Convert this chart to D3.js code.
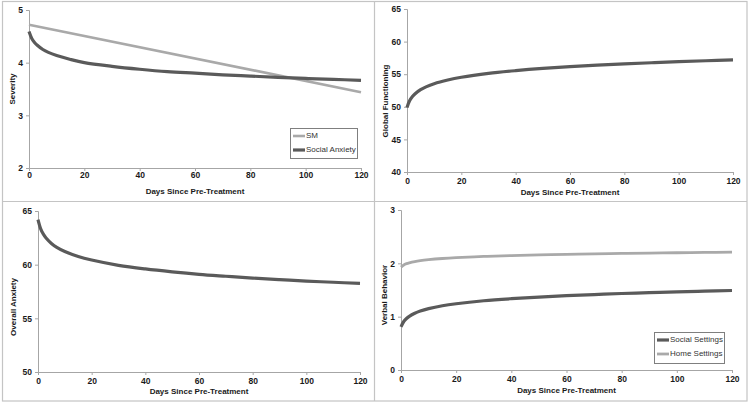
<!DOCTYPE html>
<html><head><meta charset="utf-8">
<script src="https://cdn.jsdelivr.net/npm/d3@7"></script>
<style>body{margin:0;background:#fff}svg{display:block;font-family:"Liberation Sans",Arial,sans-serif}</style>
</head><body><svg id="c" width="750" height="403"></svg>
<script>
const days = [0,1,2,3,5,7,10,15,20,30,40,50,60,70,80,90,100,110,120];
const xTicks = [0,20,40,60,80,100,120];
const xTitle = "Days Since Pre-Treatment";

const smDays = [0,120];
const smValues = [4.72,3.44];
const socialAnxiety = [4.59,4.46,4.385,4.33,4.25,4.195,4.135,4.06,4.0,3.93,3.875,3.83,3.8,3.77,3.745,3.72,3.7,3.683,3.665];
const globalFunctioning = [49.9,50.95,51.57,52.01,52.62,53.06,53.55,54.11,54.53,55.12,55.54,55.88,56.15,56.38,56.58,56.76,56.92,57.06,57.19];
const overallAnxiety = [64.2,63.34,62.84,62.48,61.98,61.62,61.23,60.76,60.43,59.94,59.6,59.33,59.1,58.92,58.75,58.61,58.47,58.36,58.25];
const socialSettings = [0.81,0.91,0.966,1.007,1.064,1.105,1.15,1.204,1.242,1.298,1.337,1.368,1.394,1.415,1.434,1.45,1.465,1.479,1.491];
const homeSettings = [1.93,1.97,1.994,2.01,2.034,2.051,2.069,2.091,2.107,2.129,2.145,2.158,2.168,2.177,2.185,2.192,2.198,2.204,2.21];

const DARK = "#5a5a5a", LIGHT = "#a9a9a9";
const svg = d3.select("#c");

// frame
const frame = svg.append("g").attr("fill","none").attr("stroke","#c4c4c4").attr("stroke-width",1.2);
frame.append("rect").attr("x",2.5).attr("y",1.5).attr("width",744.5).attr("height",399.5);
frame.append("line").attr("x1",374.5).attr("x2",374.5).attr("y1",1.5).attr("y2",401);
frame.append("line").attr("x1",2.5).attr("x2",747).attr("y1",201.5).attr("y2",201.5);

const panels = [
  {x0:29,x1:361,yT:10,yB:168,dom:[2,5],ticks:[2,3,4,5],title:"Severity",tx:13,ty:89,xl:176,xt:192,
   series:[{d:smDays,v:smValues,c:LIGHT,w:2.6,name:"SM"},{d:days,v:socialAnxiety,c:DARK,w:3.2,name:"Social Anxiety"}],
   legend:{x:290,y:128,w:67,h:30}},
  {x0:407,x1:733,yT:9,yB:172,dom:[40,65],ticks:[40,45,50,55,60,65],title:"Global Functioning",tx:386,ty:101,xl:182,xt:193,
   series:[{d:days,v:globalFunctioning,c:DARK,w:3.2}]},
  {x0:38,x1:360,yT:211,yB:372,dom:[50,65],ticks:[50,55,60,65],title:"Overall Anxiety",tx:14,ty:307,xl:382,xt:392,
   series:[{d:days,v:overallAnxiety,c:DARK,w:3.2}]},
  {x0:401,x1:732,yT:210,yB:370,dom:[0,3],ticks:[0,1,2,3],title:"Verbal Behavior",tx:385,ty:295,xl:380,xt:391,
   series:[{d:days,v:socialSettings,c:DARK,w:3.2,name:"Social Settings"},{d:days,v:homeSettings,c:LIGHT,w:2.8,name:"Home Settings"}],
   legend:{x:654,y:332,w:70,h:31}}
];

panels.forEach(p=>{
  const g = svg.append("g");
  const x = d3.scaleLinear().domain([0,120]).range([p.x0,p.x1]);
  const y = d3.scaleLinear().domain(p.dom).range([p.yB,p.yT]);
  const ya = g.append("g").attr("transform",`translate(${p.x0},0)`)
    .call(d3.axisLeft(y).tickValues(p.ticks).tickSize(3).tickPadding(3).tickFormat(d3.format("d")));
  const xa = g.append("g").attr("transform",`translate(0,${p.yB})`)
    .call(d3.axisBottom(x).tickValues(xTicks).tickSize(3).tickPadding(3).tickFormat(d3.format("d")));
  [ya,xa].forEach(a=>{
    a.select(".domain").attr("stroke","#a6a6a6").attr("stroke-width",1);
    a.selectAll(".tick line").attr("stroke","#a6a6a6");
    a.selectAll("text").attr("font-size",8.5).attr("font-weight","bold").attr("fill","#1a1a1a");
  });
  xa.selectAll("text").attr("y",null).attr("dy",null).attr("dominant-baseline","middle")
    .attr("transform",`translate(0,${p.xl-p.yB})`);
  g.append("text").attr("x",(p.x0+p.x1)/2).attr("y",p.xt).attr("text-anchor","middle")
    .attr("dominant-baseline","middle").attr("font-size",8).attr("font-weight","bold").attr("fill","#1a1a1a").text(xTitle);
  g.append("text").attr("transform",`translate(${p.tx},${p.ty}) rotate(-90)`).attr("text-anchor","middle")
    .attr("dominant-baseline","middle").attr("font-size",8).attr("font-weight","bold").attr("fill","#1a1a1a").text(p.title);
  const line = d3.line().x(d=>x(d[0])).y(d=>y(d[1])).curve(d3.curveCatmullRom.alpha(0.5));
  p.series.forEach(s=>{
    g.append("path").datum(s.d.map((d,i)=>[d,s.v[i]])).attr("d",line)
      .attr("fill","none").attr("stroke",s.c).attr("stroke-width",s.w).attr("stroke-linecap","butt");
  });
  if(p.legend){
    const L=p.legend;
    const lg=g.append("g");
    lg.append("rect").attr("x",L.x+0.5).attr("y",L.y+0.5).attr("width",L.w).attr("height",L.h)
      .attr("fill","#fff").attr("stroke","#7f7f7f").attr("stroke-width",1);
    p.series.forEach((s,i)=>{
      const yy=L.y+8+i*14;
      lg.append("line").attr("x1",L.x+3).attr("x2",L.x+15).attr("y1",yy).attr("y2",yy)
        .attr("stroke",s.c).attr("stroke-width",s.w);
      lg.append("text").attr("x",L.x+16).attr("y",yy).attr("dominant-baseline","middle")
        .attr("font-size",8).attr("fill","#333").text(s.name);
    });
  }
});
</script></body></html>
